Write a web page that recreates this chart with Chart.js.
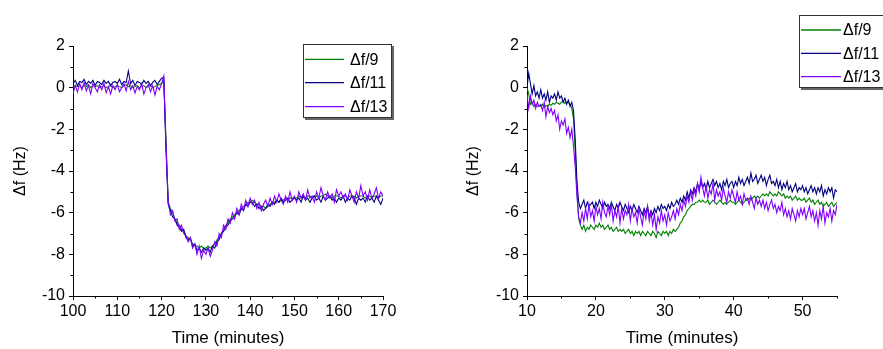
<!DOCTYPE html>
<html>
<head>
<meta charset="utf-8">
<script src="https://cdn.jsdelivr.net/npm/chart.js@4.4.0/dist/chart.umd.min.js"></script>
<style>
    html, body { margin: 0; padding: 0; background: #fff; }
    body { width: 883px; height: 349px; position: relative; overflow: hidden; }
    .panel { position: absolute; top: 0; height: 349px; }
</style>
</head>
<body>
<div class="panel" style="left:0;width:441px"><canvas id="leftChart" width="441" height="349"></canvas></div>
<div class="panel" style="left:441px;width:442px"><canvas id="rightChart" width="442" height="349"></canvas></div>

<script>
// ------------------------------------------------------------
// Data
// ------------------------------------------------------------
const seriesLabels = ['Δf/9', 'Δf/11', 'Δf/13'];
const seriesColors = ['#008000', '#000080', '#8000ff'];

const yTicks = [2, 0, -2, -4, -6, -8, -10];
const yMinor = [1, -1, -3, -5, -7, -9];

// left panel: 100 .. 170 min, every 0.5 min
const leftStart = 100, leftStep = 0.5;
const leftTicks = [100, 110, 120, 130, 140, 150, 160, 170];
const leftMinor = [105, 115, 125, 135, 145, 155, 165];

const leftDf9 = [
    0.0, 0.1, 0.05, 0.1, 0.0, 0.1, 0.05, 0.15, 0.0, 0.1,
    0.05, 0.1, 0.0, 0.05, 0.1, 0.0, 0.05, 0.1, 0.0, 0.05,
    0.1, 0.05, 0.0, 0.1, 0.15, 0.05, 0.1, 0.0, 0.05, 0.1,
    0.0, 0.05, 0.1, 0.0, 0.05, 0.1, 0.0, 0.05, 0.1, 0.15,
    0.2,
    0.3, -2.5, -5.5, -5.8, -6.0, -6.3, -6.5, -6.6, -6.8, -6.9,
    -7.1, -7.2, -7.3, -7.5, -7.6, -7.6, -7.7, -7.6, -7.7, -7.7,
    -7.6, -7.7, -7.6, -7.5, -7.3, -7.2, -7.0, -6.8, -6.6, -6.5,
    -6.3, -6.2, -6.1, -6.0, -5.9, -5.8, -5.7, -5.6, -5.5, -5.5,
    -5.4, -5.5, -5.6, -5.6, -5.7, -5.7, -5.8, -5.7, -5.6, -5.5,
    -5.5, -5.4, -5.5, -5.4, -5.4, -5.3, -5.4, -5.3, -5.3, -5.3,
    -5.3, -5.2, -5.3, -5.2, -5.3, -5.2, -5.2, -5.3, -5.2, -5.2,
    -5.3, -5.2, -5.2, -5.1, -5.2, -5.2, -5.3, -5.2, -5.2, -5.2,
    -5.3, -5.2, -5.2, -5.3, -5.2, -5.2, -5.2, -5.3, -5.2, -5.2,
    -5.2, -5.3, -5.2, -5.2, -5.3, -5.2, -5.2, -5.3, -5.2, -5.2
];
const leftDf11 = [
    0.2, 0.35, 0.1, 0.3, 0.25, 0.4, 0.15, 0.3, 0.2, 0.35,
    0.1, 0.3, 0.25, 0.15, 0.35, 0.2, 0.3, 0.1, 0.25, 0.3,
    0.2, 0.4, 0.15, 0.3, 0.25, 0.8, 0.2, 0.35, 0.1, 0.3,
    0.25, 0.15, 0.35, 0.2, 0.3, 0.1, 0.25, 0.35, 0.15, 0.3,
    0.45,
    0.5, -3.0, -5.6, -5.9, -6.2, -6.3, -6.6, -6.7, -6.9, -6.8,
    -7.2, -7.3, -7.2, -7.6, -7.5, -7.8, -7.7, -7.9, -7.7, -7.8,
    -7.7, -7.9, -7.6, -7.7, -7.4, -7.3, -7.0, -6.9, -6.7, -6.6,
    -6.4, -6.3, -6.2, -6.0, -6.1, -5.8, -5.9, -5.6, -5.7, -5.5,
    -5.5, -5.7, -5.6, -5.8, -5.7, -5.9, -5.8, -5.6, -5.7, -5.5,
    -5.6, -5.4, -5.5, -5.3, -5.5, -5.4, -5.3, -5.5, -5.4, -5.3,
    -5.4, -5.3, -5.5, -5.2, -5.4, -5.3, -5.5, -5.3, -5.2, -5.4,
    -5.3, -5.5, -5.2, -5.4, -5.3, -5.2, -5.4, -5.3, -5.5, -5.3,
    -5.4, -5.2, -5.5, -5.3, -5.4, -5.2, -5.3, -5.6, -5.3, -5.4,
    -5.3, -5.5, -5.2, -5.4, -5.3, -5.5, -5.2, -5.4, -5.6, -5.3
];
const leftDf13 = [
    -0.3, 0.1, -0.2, 0.2, -0.1, 0.25, -0.15, 0.1, -0.3, 0.2,
    0.0, -0.2, 0.15, -0.1, 0.2, -0.25, 0.05, -0.3, 0.1, -0.1,
    0.15, -0.2, 0.0, 0.2, -0.15, 0.3, -0.1, 0.1, -0.25, 0.05,
    -0.1, 0.2, -0.3, 0.0, 0.15, -0.2, 0.1, -0.35, 0.05, -0.1,
    0.2,
    0.55, -2.8, -5.5, -6.1, -5.9, -6.4, -6.3, -6.8, -6.6, -7.0,
    -7.1, -7.4, -7.2, -7.7, -7.5, -8.0, -7.6, -8.2, -7.8, -8.0,
    -7.7, -8.1, -7.8, -7.4, -7.6, -7.0, -7.2, -6.6, -6.8, -6.3,
    -6.5, -6.0, -6.3, -5.8, -6.1, -5.6, -5.9, -5.4, -5.7, -5.3,
    -5.6, -5.4, -5.8, -5.5, -5.9, -5.6, -5.4, -5.7, -5.3, -5.6,
    -5.2, -5.5, -5.1, -5.4, -5.6, -5.2, -5.5, -5.0, -5.4, -5.2,
    -5.5, -5.0, -5.3, -5.1, -5.4, -4.9, -5.3, -5.2, -5.5, -5.0,
    -5.3, -4.8, -5.2, -5.4, -5.0, -5.3, -5.1, -5.5, -4.9, -5.2,
    -5.0, -5.3, -5.1, -5.4, -4.9, -5.2, -5.5, -5.0, -5.3, -4.7,
    -5.2, -5.0, -5.4, -4.9, -5.3, -5.1, -4.8, -5.3, -5.0, -5.2
];

// right panel: 10 .. 55 min, every 0.25 min (8 values = 2 min per row)
const rightStart = 10, rightStep = 0.25;
const rightTicks = [10, 20, 30, 40, 50];
const rightMinor = [15, 25, 35, 45, 55];

const rightDf9 = [
    0.0, -0.3, -0.8, -0.7, -0.9, -0.8, -0.9, -0.85,
    -0.9, -0.8, -0.95, -0.85, -0.9, -0.8, -0.85, -0.75,
    -0.8, -0.7, -0.75, -0.8, -0.7, -0.65, -0.75, -0.7,
    -0.7, -0.8, -1.0, -1.5, -3.0, -5.0, -6.3, -6.6,
    -6.8, -6.6, -6.9, -6.7, -6.8, -6.6, -6.7, -6.8,
    -6.6, -6.7, -6.5, -6.7, -6.6, -6.8, -6.7, -6.6,
    -6.8, -6.7, -6.9, -6.8, -6.7, -6.9, -6.8, -6.9,
    -6.8, -7.0, -6.9, -6.8, -7.0, -6.9, -7.1, -6.9,
    -7.0, -6.9, -7.1, -6.9, -7.0, -7.1, -6.9, -7.0,
    -7.1, -6.9, -7.0, -7.2, -6.9, -7.0, -7.1, -6.9,
    -7.0, -6.9, -7.1, -6.9, -7.0, -6.8, -6.9, -6.8,
    -6.7, -6.5, -6.4, -6.2, -6.1, -5.9, -5.8, -5.7,
    -5.6, -5.6, -5.5, -5.5, -5.4, -5.5, -5.4, -5.5,
    -5.5, -5.4, -5.6, -5.5, -5.4, -5.5, -5.6, -5.5,
    -5.4, -5.5, -5.6, -5.5, -5.6, -5.5, -5.4, -5.5,
    -5.5, -5.6, -5.5, -5.4, -5.5, -5.6, -5.5, -5.4,
    -5.4, -5.3, -5.4, -5.3, -5.2, -5.3, -5.2, -5.3,
    -5.2, -5.1, -5.2, -5.1, -5.2, -5.0, -5.1, -5.2,
    -5.1, -5.2, -5.0, -5.1, -5.2, -5.1, -5.3, -5.2,
    -5.3, -5.2, -5.4, -5.3, -5.2, -5.4, -5.3, -5.4,
    -5.4, -5.3, -5.5, -5.4, -5.3, -5.5, -5.4, -5.6,
    -5.5, -5.4, -5.6, -5.5, -5.7, -5.6, -5.5, -5.7,
    -5.6, -5.5, -5.7, -5.6, -5.5
];
const rightDf11 = [
    0.0, 0.7, 0.2, -0.3, 0.1, -0.4, -0.2, -0.5,
    -0.1, -0.5, -0.3, -0.6, -0.2, -0.7, -0.4, -0.5,
    -0.3, -0.6, -0.2, -0.5, -0.4, -0.7, -0.5, -0.8,
    -0.6, -0.9, -0.7, -1.1, -2.5, -4.5, -5.5, -5.8,
    -5.6, -5.4, -5.8, -5.5, -5.7, -5.6, -5.5, -5.8,
    -5.5, -5.7, -5.4, -5.6, -5.8, -5.5, -5.7, -5.6,
    -5.8, -5.5, -5.7, -5.9, -5.6, -5.8, -5.5, -5.7,
    -5.9, -5.6, -5.8, -6.0, -5.7, -5.9, -5.6, -5.8,
    -6.0, -5.7, -5.9, -6.1, -5.8, -6.0, -5.7, -6.2,
    -5.9, -6.1, -5.8, -6.0, -5.7, -5.9, -5.6, -5.8,
    -5.7, -5.9, -5.6, -5.8, -5.5, -5.7, -5.6, -5.4,
    -5.6, -5.3, -5.5, -5.2, -5.4, -5.0, -5.3, -4.9,
    -5.1, -4.8, -5.0, -4.6, -4.9, -4.5, -4.8, -4.6,
    -4.9, -4.5, -4.8, -4.6, -4.4, -4.7, -4.5, -4.8,
    -4.6, -4.9, -4.5, -4.7, -4.4, -4.8, -4.6, -4.5,
    -4.8, -4.5, -4.7, -4.3, -4.6, -4.4, -4.7, -4.5,
    -4.3, -4.6, -4.1, -4.5, -4.4, -4.2, -4.6, -4.4,
    -4.2, -4.5, -4.3, -4.7, -4.4, -4.2, -4.6, -4.5,
    -4.7, -4.4, -4.8, -4.5, -4.9, -4.6, -4.8, -4.5,
    -4.9, -4.7, -5.0, -4.8, -4.6, -5.0, -4.8, -4.9,
    -4.7, -5.0, -4.8, -5.1, -4.9, -4.7, -5.0, -4.8,
    -5.1, -4.8, -5.0, -4.7, -5.2, -4.9, -5.1, -4.8,
    -5.0, -4.8, -5.3, -4.9, -5.0
];
const rightDf13 = [
    -0.3, -1.0, -0.4, -0.8, -0.6, -1.0, -0.7, -0.9,
    -0.8, -1.1, -0.7, -1.4, -0.9, -1.2, -1.0, -1.3,
    -1.1, -1.6, -1.3, -2.0, -1.6, -1.8, -1.5, -2.2,
    -1.9, -2.4, -2.0, -2.8, -3.8, -5.2, -6.2, -6.5,
    -6.0, -6.4, -5.8, -6.3, -5.6, -6.2, -5.9, -6.4,
    -5.7, -6.1, -5.8, -6.3, -5.5, -6.0, -6.2, -5.7,
    -6.1, -5.6, -6.4, -5.9, -6.2, -5.7, -6.5, -5.8,
    -6.3, -5.9, -6.1, -5.6, -6.4, -5.8, -6.2, -6.0,
    -6.5, -5.8, -6.2, -6.6, -5.9, -6.3, -5.7, -6.4,
    -6.0, -6.6, -6.1, -6.8, -6.2, -6.5, -5.9, -6.4,
    -6.1, -6.6, -6.0, -6.4, -6.2, -5.9, -6.3, -5.8,
    -6.1, -5.6, -5.9, -5.4, -5.7, -5.2, -5.5, -5.0,
    -5.4, -4.9, -5.2, -4.6, -5.0, -4.3, -4.8, -5.2,
    -4.7, -5.3, -4.9, -5.1, -4.6, -5.4, -4.9, -5.2,
    -5.0, -5.4, -4.8, -5.2, -5.5, -5.0, -5.3, -4.9,
    -5.2, -5.5, -5.0, -5.4, -5.2, -5.6, -5.1, -5.4,
    -5.3, -5.6, -5.2, -5.5, -5.8, -5.3, -5.6, -5.4,
    -5.7, -5.4, -5.8, -5.5, -5.9, -5.6, -5.4, -5.8,
    -5.6, -6.0, -5.7, -5.9, -5.5, -6.1, -5.8, -6.2,
    -5.9, -6.3, -5.8, -6.1, -6.4, -5.9, -6.2, -5.8,
    -6.1, -5.8, -6.3, -6.0, -5.7, -6.2, -5.9, -6.4,
    -6.0, -6.6, -5.9, -6.3, -5.7, -6.5, -6.0, -6.2,
    -5.8, -6.4, -5.9, -6.1, -5.6
];

// ------------------------------------------------------------
// Plugins
// ------------------------------------------------------------
const FONT = '"Liberation Sans", Arial, Helvetica, sans-serif';

// Origin-style minor ticks (short, outward)
const minorTicks = {
    id: 'minorTicks',
    afterDraw(chart, args, opts) {
        const { ctx } = chart;
        const xs = chart.scales.x, ys = chart.scales.y;
        ctx.save();
        ctx.strokeStyle = '#000';
        ctx.lineWidth = 1;
        ctx.beginPath();
        (opts.x || []).forEach(v => {
            const px = Math.round(xs.getPixelForValue(v)) + 0.5;
            ctx.moveTo(px, ys.bottom);
            ctx.lineTo(px, ys.bottom + 2.5);
        });
        (opts.y || []).forEach(v => {
            const py = Math.round(ys.getPixelForValue(v)) + 0.5;
            ctx.moveTo(xs.left, py);
            ctx.lineTo(xs.left - 2.5, py);
        });
        ctx.stroke();
        ctx.restore();
    }
};

// boxed legend with drop shadow
const boxLegend = {
    id: 'boxLegend',
    afterDraw(chart, args, o) {
        const { ctx } = chart;
        ctx.save();
        ctx.fillStyle = '#666';
        ctx.fillRect(o.x + 2, o.y + 2, o.w, o.h);
        ctx.fillStyle = '#fff';
        ctx.fillRect(o.x, o.y, o.w, o.h);
        ctx.strokeStyle = '#333';
        ctx.lineWidth = 1;
        ctx.strokeRect(o.x + 0.5, o.y + 0.5, o.w - 1, o.h - 1);
        ctx.font = '16px ' + FONT;
        ctx.textBaseline = 'middle';
        ctx.textAlign = 'left';
        chart.data.datasets.forEach((ds, i) => {
            const ry = o.y + o.rows[i];
            ctx.strokeStyle = ds.borderColor;
            ctx.lineWidth = 1.3;
            ctx.beginPath();
            ctx.moveTo(o.x + o.lineX0, ry);
            ctx.lineTo(o.x + o.lineX1, ry);
            ctx.stroke();
            ctx.fillStyle = '#000';
            ctx.fillText(ds.label, o.x + o.textX, ry + 1);
        });
        ctx.restore();
    }
};

// ------------------------------------------------------------
// Chart builder
// ------------------------------------------------------------
function buildPanel(canvasId, cfg) {
    const datasets = cfg.series.map((vals, i) => ({
        label: seriesLabels[i],
        data: vals.map((v, k) => ({ x: cfg.start + k * cfg.step, y: v })),
        borderColor: seriesColors[i],
        backgroundColor: seriesColors[i],
        borderWidth: 1.1,
        pointRadius: 0,
        tension: 0,
        fill: false,
        order: 2 - i,          // purple on top, green underneath
    }));

    return new Chart(document.getElementById(canvasId), {
        type: 'line',
        data: { datasets },
        options: {
            responsive: false,
            animation: false,
            events: [],
            layout: { padding: { left: 0, right: cfg.padRight, top: 46, bottom: 0 } },
            plugins: {
                legend: { display: false },
                tooltip: { enabled: false },
                minorTicks: { x: cfg.minor, y: yMinor },
                boxLegend: cfg.legend,
            },
            scales: {
                x: {
                    type: 'linear',
                    min: cfg.min,
                    max: cfg.max,
                    afterBuildTicks: s => { s.ticks = cfg.ticks.map(v => ({ value: v })); },
                    afterFit: s => { s.height = 53; },
                    grid: { drawOnChartArea: false, drawTicks: true, tickLength: 4, color: '#000' },
                    border: { display: true, color: '#000', width: 1 },
                    ticks: { color: '#000', font: { size: 16, family: FONT }, padding: 2, maxRotation: 0 },
                    title: { display: true, text: 'Time (minutes)', color: '#000',
                             font: { size: 17, family: FONT }, padding: { top: 0, bottom: 0 } },
                },
                y: {
                    type: 'linear',
                    min: -10,
                    max: 2,
                    afterBuildTicks: s => { s.ticks = yTicks.map(v => ({ value: v })); },
                    afterFit: s => { s.width = cfg.yWidth; },
                    grid: { drawOnChartArea: false, drawTicks: true, tickLength: 4, color: '#000' },
                    border: { display: true, color: '#000', width: 1 },
                    ticks: { color: '#000', font: { size: 16, family: FONT }, padding: 4 },
                    title: { display: true, text: 'Δf (Hz)', color: '#000',
                             font: { size: 16, family: FONT }, padding: { top: cfg.yTitlePad, bottom: 0 } },
                },
            },
        },
        plugins: [minorTicks, boxLegend],
    });
}

buildPanel('leftChart', {
    series: [leftDf9, leftDf11, leftDf13],
    start: leftStart, step: leftStep,
    min: 100, max: 170, ticks: leftTicks, minor: leftMinor,
    yWidth: 73, padRight: 58, yTitlePad: 11,
    legend: { x: 303, y: 44, w: 89, h: 74, rows: [15.3, 38.7, 62.7], lineX0: 2, lineX1: 41, textX: 47 },
});

buildPanel('rightChart', {
    series: [rightDf9, rightDf11, rightDf13],
    start: rightStart, step: rightStep,
    min: 10, max: 55, ticks: rightTicks, minor: rightMinor,
    yWidth: 86, padRight: 46, yTitlePad: 23,
    legend: { x: 358, y: 15, w: 89, h: 73, rows: [15, 38.3, 61.7], lineX0: 2, lineX1: 42, textX: 44 },
});
</script>
</body>
</html>
